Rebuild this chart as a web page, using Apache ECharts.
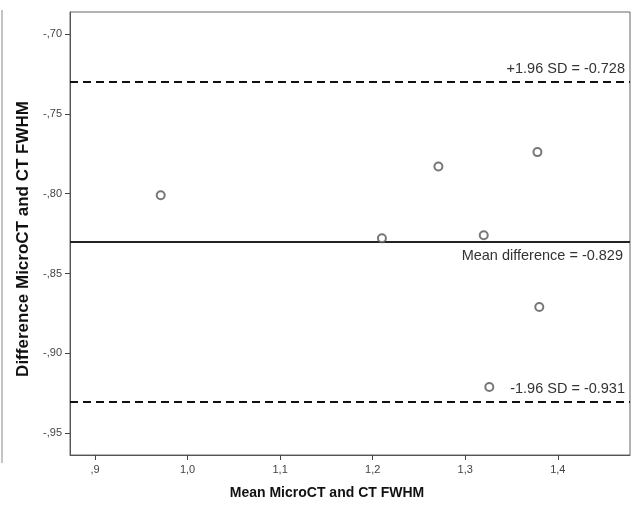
<!DOCTYPE html>
<html>
<head>
<meta charset="utf-8">
<script src="https://cdn.jsdelivr.net/npm/echarts@6/dist/echarts.min.js"></script>
<style>
  html, body { margin: 0; padding: 0; background: #fff; }
  #chart { width: 632px; height: 506px; }
</style>
</head>
<body>
<div id="chart"></div>
<script>
// Bland-Altman: mean of the two FWHM measurements vs. their difference
const meanValues = [0.971, 1.210, 1.271, 1.320, 1.378, 1.380, 1.326];
const diffValues = [-0.801, -0.828, -0.783, -0.826, -0.774, -0.871, -0.921];

// Agreement limits
const upperLimit = -0.728;
const meanDifference = -0.829;
const lowerLimit = -0.931;

// Tick positions shown on each axis
const xTicks = [0.9, 1.0, 1.1, 1.2, 1.3, 1.4];
const yTicks = [-0.95, -0.90, -0.85, -0.80, -0.75, -0.70];

const xTitle = 'Mean MicroCT and CT FWHM';
const yTitle = 'Difference MicroCT and CT FWHM';

const FONT = 'Liberation Sans, Arial, sans-serif';

// Comma decimals, leading zero dropped: 0.9 -> ",9", -0.70 -> "-,70"
function fmt(v, digits) {
  let s = Math.abs(v).toFixed(digits).replace('.', ',');
  if (s.startsWith('0')) s = s.slice(1);
  return (v < 0 ? '-' : '') + s;
}

const points = meanValues.map((m, i) => [m, diffValues[i]]);

const chart = echarts.init(document.getElementById('chart'), null, { renderer: 'canvas' });

const lineLabel = (text, pos, dist) => ({
  show: true,
  position: pos,
  formatter: text,
  color: '#333',
  fontSize: 14.5,
  fontFamily: FONT,
  distance: dist
});

chart.setOption({
  animation: false,
  backgroundColor: '#fff',
  grid: {
    left: 70, top: 12, right: 2, bottom: 51,
    show: true, borderColor: '#666', borderWidth: 1
  },
  xAxis: {
    type: 'value',
    min: 0.873, max: 1.478,
    axisLine: { show: true, lineStyle: { color: '#555', width: 1 } },
    axisTick: { show: true, length: 5, customValues: xTicks, lineStyle: { color: '#444' } },
    axisLabel: {
      customValues: xTicks, formatter: v => fmt(v, 1),
      fontSize: 11, color: '#444', margin: 9, fontFamily: FONT
    },
    splitLine: { show: false }
  },
  yAxis: {
    type: 'value',
    min: -0.9636, max: -0.6863,
    axisLine: { show: true, lineStyle: { color: '#555', width: 1 } },
    axisTick: { show: true, length: 5, customValues: yTicks, lineStyle: { color: '#444' } },
    axisLabel: {
      customValues: yTicks, formatter: v => fmt(v, 2),
      fontSize: 11, color: '#444', margin: 8, fontFamily: FONT
    },
    splitLine: { show: false }
  },
  graphic: [
    {
      type: 'line',
      shape: { x1: 2, y1: 10, x2: 2, y2: 463 },
      style: { stroke: '#888', lineWidth: 1 }
    },
    {
      type: 'text',
      x: 327, y: 493,
      style: {
        text: xTitle, fill: '#111', font: 'bold 14px ' + FONT,
        align: 'center', verticalAlign: 'middle'
      }
    },
    {
      type: 'text',
      x: 23, y: 239,
      rotation: Math.PI / 2,
      style: {
        text: yTitle, fill: '#111', font: 'bold 17px ' + FONT,
        align: 'center', verticalAlign: 'middle'
      }
    }
  ],
  series: [{
    type: 'scatter',
    data: points,
    symbol: 'emptyCircle',
    symbolSize: 8,
    itemStyle: { color: '#555', borderColor: '#555', borderWidth: 1.5 },
    z: 5,
    markLine: {
      silent: true,
      symbol: ['none', 'none'],
      z: 3,
      data: [
        { yAxis: upperLimit, lineStyle: { type: [8, 5], color: '#111', width: 2 },
          label: lineLabel('+1.96 SD = ' + upperLimit.toFixed(3), 'insideEndTop', 5) },
        { yAxis: meanDifference, lineStyle: { type: 'solid', color: '#222', width: 2 },
          label: lineLabel('Mean difference = ' + meanDifference.toFixed(3), 'insideEndBottom', 7) },
        { yAxis: lowerLimit, lineStyle: { type: [8, 5], color: '#111', width: 2 },
          label: lineLabel('-1.96 SD = ' + lowerLimit.toFixed(3), 'insideEndTop', 5) }
      ]
    }
  }]
});
</script>
</body>
</html>
